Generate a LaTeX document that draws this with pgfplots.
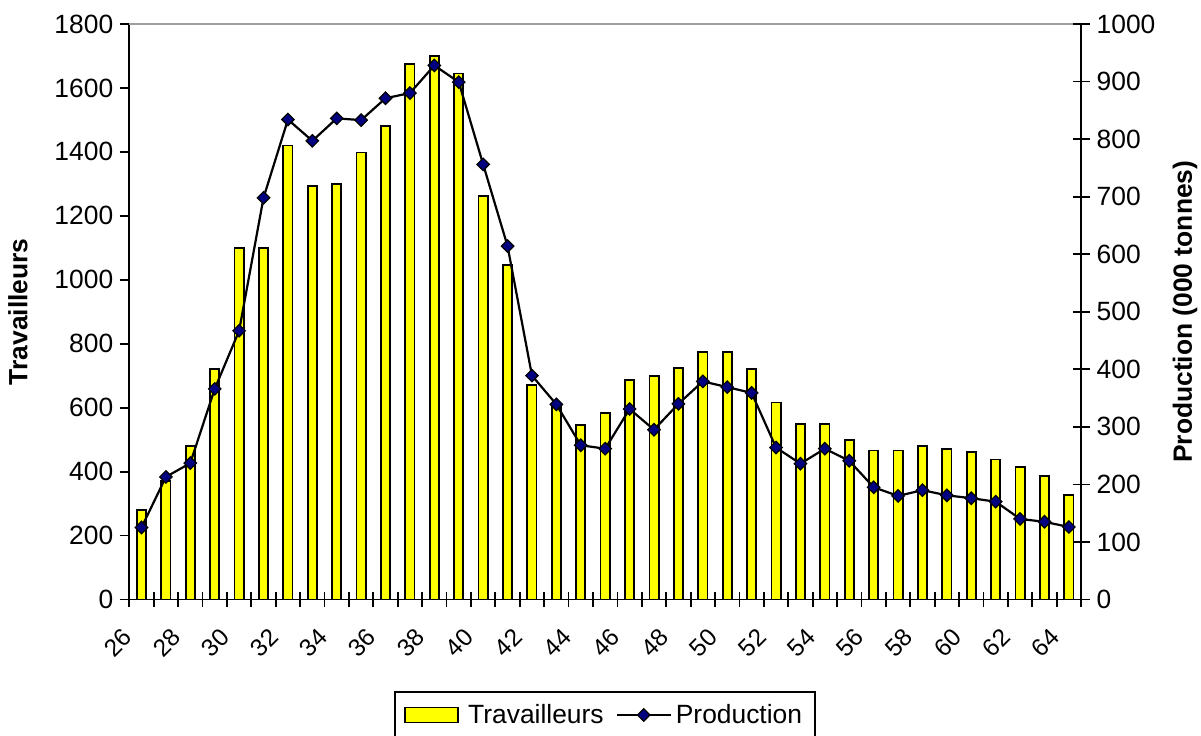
\documentclass[border=0pt]{standalone}
\usepackage{fontspec}
\setmainfont{Liberation Sans}
\usepackage{pgfplots}
\pgfplotsset{compat=1.18}
\usepackage{pgfplotstable}
\definecolor{baryellow}{RGB}{255,255,0}
\definecolor{navyblue}{RGB}{0,0,128}
\pgfplotsset{
  mylinelegend/.style={legend image code/.code={\draw[mark repeat=2, mark phase=2, ##1] plot coordinates {(0pt,0pt) (13.5pt,0pt) (27pt,0pt)};}},
  mybarlegend/.style={legend image code/.code={\draw[fill=baryellow, draw=black, line width=0.9pt] (0pt,-3.75pt) rectangle (26.5pt,3.75pt);\path[draw=none, fill=none] (0pt,0pt) rectangle (29.5pt,0.1pt);}},
}

\pgfplotstableread{
year trav prod
26 280 125
27 370 213
28 480 237
29 720 366
30 1100 467
31 1100 698
32 1420 834
33 1293 797
34 1300 836
35 1398 833
36 1481 871
37 1676 880
38 1701 928
39 1645 899
40 1262 756
41 1047 614
42 670 389
43 612 339
44 546 268
45 583 262
46 686 331
47 700 295
48 724 340
49 774 379
50 774 369
51 720 359
52 616 264
53 550 236
54 550 262
55 498 241
56 466 195
57 466 180
58 481 190
59 470 181
60 462 176
61 438 170
62 415 140
63 387 135
64 328 126
}\datatable

\begin{document}
\begin{tikzpicture}[font=\fontsize{13.2}{15.8}\selectfont]
\useasboundingbox (0,0) rectangle (600.5pt,367.5pt);
\begin{axis}[
  at={(64.65pt,67.75pt)}, anchor=south west,
  scale only axis, width=475.9pt, height=287.75pt,
  xmin=25.5, xmax=64.5, ymin=0, ymax=1800,
  axis x line*=bottom, axis y line*=left,
  axis line style={-, line width=0.9pt, black},
  xtick=\empty,
  ytick={0,200,...,1800},
  scaled y ticks=false,
  tick align=outside, major tick length=4.5pt,
  every tick/.style={black, line width=0.9pt},
  extra y ticks={1800}, extra y tick labels={},
  extra y tick style={grid=major, major grid style={gray!75, line width=0.9pt}},
  /pgf/number format/assume math mode=true,
  /pgf/number format/1000 sep={},
  yticklabel style={font=\fontsize{13.2}{15.8}\selectfont},
  ylabel={Travailleurs},
  ylabel style={at={(axis description cs:-0.1169,0.5)}, anchor=center, font=\bfseries\fontsize{13.2}{15.8}\selectfont},
]
\addplot[ybar, bar width=4.6pt, fill=baryellow, draw=black, line width=0.9pt] table[x=year,y=trav]{\datatable};
\end{axis}
\begin{axis}[
  at={(64.65pt,67.75pt)}, anchor=south west,
  scale only axis, width=475.9pt, height=287.75pt,
  xmin=25.5, xmax=64.5, ymin=0, ymax=1000,
  axis x line*=bottom, axis y line*=right,
  axis line style={-, line width=0.9pt, black},
  tick align=center, major tick length=8.5pt, minor tick length=7.5pt,
  every tick/.style={black, line width=0.9pt},
  ytick={0,100,...,1000},
  scaled y ticks=false,
  xtick={26,28,...,64},
  major x tick style={draw=none},
  minor xtick={25.5,26.5,...,64.5},
  /pgf/number format/assume math mode=true,
  /pgf/number format/1000 sep={},
  xticklabel style={xshift=-4.5pt, yshift=-10pt, rotate=45, anchor=east, font=\fontsize{12.2}{14.6}\selectfont},
  yticklabel style={font=\fontsize{13.2}{15.8}\selectfont},
  ylabel={Production (000 tonnes)},
  ylabel style={at={(axis description cs:1.1093,0.5)}, anchor=center, font=\bfseries\fontsize{13.2}{15.8}\selectfont},
  legend style={at={(axis description cs:0.5,-0.1590)}, anchor=north, legend columns=2, draw=black, line width=0.9pt,
    font=\fontsize{13.2}{15.8}\selectfont, inner xsep=4.5pt, inner ysep=4pt,
    /tikz/every even column/.append style={column sep=4pt}},
]
\addlegendimage{mybarlegend}
\addlegendentry{Travailleurs}
\addplot[black, line width=1.1pt, mark=square*, mark size=2.2pt,
  mark options={rotate=45, fill=navyblue, draw=black, line width=0.6pt},
  mylinelegend]
  table[x=year,y=prod]{\datatable};
\addlegendentry{Production\hspace{2pt}}
\end{axis}
\end{tikzpicture}
\end{document}
